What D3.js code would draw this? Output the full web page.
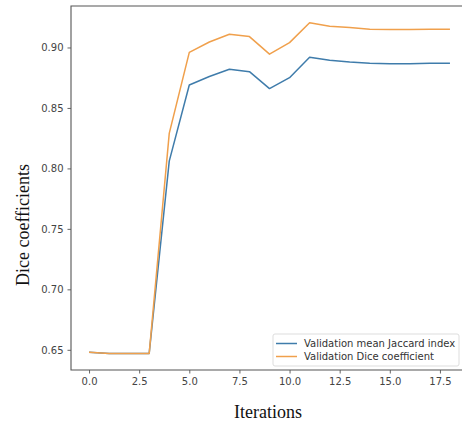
<!DOCTYPE html>
<html>
<head>
<meta charset="utf-8">
<script src="https://cdn.jsdelivr.net/npm/d3@7"></script>
<style>
  body { margin: 0; background: #fff; }
  svg { display: block; }
</style>
</head>
<body>
<svg id="chart" width="462" height="423"></svg>
<script>
// data
var iterations = [0, 1, 2, 3, 4, 5, 6, 7, 8, 9, 10, 11, 12, 13, 14, 15, 16, 17, 18];
var jaccard = [0.648, 0.647, 0.647, 0.647, 0.806, 0.869, 0.876, 0.882, 0.880, 0.866, 0.875, 0.892,
               0.8895, 0.888, 0.887, 0.8865, 0.8865, 0.887, 0.887];
var dice = [0.648, 0.647, 0.647, 0.647, 0.829, 0.896, 0.9045, 0.911, 0.909, 0.8945, 0.904, 0.9205,
            0.9175, 0.9165, 0.915, 0.9148, 0.9148, 0.915, 0.915];
var xTicks = [0, 2.5, 5, 7.5, 10, 12.5, 15, 17.5];
var yTicks = [0.65, 0.70, 0.75, 0.80, 0.85, 0.90];
var seriesNames = ["Validation mean Jaccard index", "Validation Dice coefficient"];
var colors = ["#3f7cab", "#f0a04c"];

var svg = d3.select("#chart");
var plotLeft = 71, plotTop = 6, plotRight = 468, plotBottom = 370;

var x = d3.scaleLinear().domain([-0.9, 18.9]).range([plotLeft, plotRight]);
var y = d3.scaleLinear().domain([0.6333, 0.9343]).range([plotBottom, plotTop]);

var axisColor = "#555";
var tickFont = "DejaVu Sans, sans-serif";

// x axis
var gx = svg.append("g")
  .attr("transform", "translate(0," + plotBottom + ")")
  .call(d3.axisBottom(x).tickValues(xTicks).tickFormat(d3.format(".1f")).tickSize(3.5).tickPadding(4));
// y axis
var gy = svg.append("g")
  .attr("transform", "translate(" + plotLeft + ",0)")
  .call(d3.axisLeft(y).tickValues(yTicks).tickFormat(d3.format(".2f")).tickSize(3.5).tickPadding(4));

[gx, gy].forEach(function (g) {
  g.select(".domain").remove();
  g.selectAll("line").attr("stroke", axisColor).attr("stroke-width", 0.9);
  g.selectAll("text")
    .style("font-family", tickFont)
    .style("font-size", "10px")
    .attr("fill", "#444");
});

// spines (right one falls outside the crop)
svg.append("path")
  .attr("d", "M" + 462 + "," + plotTop + "H" + plotLeft + "V" + plotBottom + "H" + 462)
  .attr("fill", "none")
  .attr("stroke", axisColor)
  .attr("stroke-width", 1.1);

// lines
var line = d3.line()
  .x(function (d, i) { return x(iterations[i]); })
  .y(function (d) { return y(d); });

[jaccard, dice].forEach(function (s, i) {
  svg.append("path")
    .datum(s)
    .attr("d", line)
    .attr("fill", "none")
    .attr("stroke", colors[i])
    .attr("stroke-width", 1.5)
    .attr("stroke-linejoin", "round");
});

// legend
var lg = svg.append("g").attr("transform", "translate(273,334)");
lg.append("rect")
  .attr("width", 186).attr("height", 32)
  .attr("rx", 2)
  .attr("fill", "#fff")
  .attr("fill-opacity", 0.8)
  .attr("stroke", "#ddd");
seriesNames.forEach(function (name, i) {
  var yy = 9.5 + i * 13;
  lg.append("line")
    .attr("x1", 3).attr("x2", 24)
    .attr("y1", yy).attr("y2", yy)
    .attr("stroke", colors[i])
    .attr("stroke-width", 1.5);
  lg.append("text")
    .attr("x", 31).attr("y", yy + 3.5)
    .style("font-family", tickFont)
    .style("font-size", "10px")
    .attr("fill", "#333")
    .text(name);
});

// axis labels
svg.append("text")
  .attr("x", 268)
  .attr("y", 418)
  .attr("text-anchor", "middle")
  .style("font-family", "Liberation Serif, Times New Roman, serif")
  .style("font-size", "18px")
  .attr("fill", "#111")
  .text("Iterations");

svg.append("text")
  .attr("text-anchor", "middle")
  .attr("transform", "translate(29,225)rotate(-90)")
  .style("font-family", "Liberation Serif, Times New Roman, serif")
  .style("font-size", "18px")
  .attr("fill", "#111")
  .text("Dice coefficients");
</script>
</body>
</html>
